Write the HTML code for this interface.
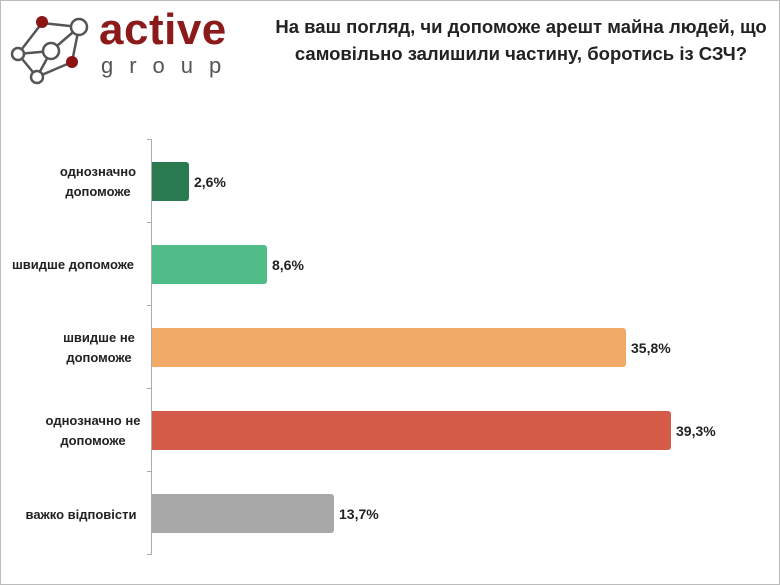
<!DOCTYPE html>
<html><head><meta charset="utf-8"><style>
body{margin:0;background:#fff;}
#c{position:relative;width:778px;height:583px;border:1px solid #bbb;overflow:hidden;font-family:"Liberation Sans",sans-serif;}
.t{position:absolute;left:240px;top:12px;width:560px;text-align:center;font-weight:bold;font-size:18.5px;line-height:27px;color:#222;}
.bar{position:absolute;left:151px;height:39px;border-radius:0 3px 3px 0;}
.v{position:absolute;font-weight:bold;font-size:14px;color:#222;}
.l{position:absolute;width:200px;text-align:center;font-weight:bold;font-size:13px;line-height:20px;color:#222;}
.ax{position:absolute;left:150px;top:138px;width:1px;height:416px;background:#aaa;}
.tk{position:absolute;left:146px;width:5px;height:1px;background:#aaa;}
</style></head><body><div id="c">
<svg style="position:absolute;left:0;top:0" width="100" height="90">
<g stroke="#555" stroke-width="2.5" fill="none">
<line x1="41" y1="22" x2="78" y2="26"/><line x1="41" y1="22" x2="17" y2="53"/><line x1="78" y1="26" x2="71" y2="61"/><line x1="78" y1="26" x2="50" y2="50"/><line x1="17" y1="53" x2="36" y2="76"/><line x1="50" y1="50" x2="36" y2="76"/><line x1="71" y1="61" x2="36" y2="76"/><line x1="17" y1="53" x2="50" y2="50"/>
</g>
<g stroke="#555" stroke-width="2.5" fill="#fff"><circle cx="78" cy="26" r="8"/><circle cx="50" cy="50" r="8"/><circle cx="17" cy="53" r="6"/><circle cx="36" cy="76" r="6"/></g>
<circle cx="41" cy="21" r="6" fill="#8b1414"/><circle cx="71" cy="61" r="6" fill="#8b1414"/>
</svg>
<div style="position:absolute;left:98px;top:4px;font-size:44px;font-weight:bold;color:#8b1a1a;letter-spacing:0.5px">active</div>
<div style="position:absolute;left:100px;top:52px;font-size:22px;color:#555;letter-spacing:16px">group</div>
<div class="t">На ваш погляд, чи допоможе арешт майна людей, що самовільно залишили частину, боротись із СЗЧ?</div>
<div class="ax"></div>
<div class="tk" style="top:138px"></div><div class="tk" style="top:221px"></div><div class="tk" style="top:304px"></div><div class="tk" style="top:387px"></div><div class="tk" style="top:470px"></div><div class="tk" style="top:553px"></div>
<div class="bar" style="top:161px;width:37px;background:#2a7a50"></div>
<div class="bar" style="top:244px;width:115px;background:#50bd88"></div>
<div class="bar" style="top:327px;width:474px;background:#f2aa68"></div>
<div class="bar" style="top:410px;width:519px;background:#d35b48"></div>
<div class="bar" style="top:493px;width:182px;background:#a8a8a8"></div>
<div class="v" style="left:193px;top:173px">2,6%</div>
<div class="v" style="left:271px;top:256px">8,6%</div>
<div class="v" style="left:630px;top:339px">35,8%</div>
<div class="v" style="left:675px;top:422px">39,3%</div>
<div class="v" style="left:338px;top:505px">13,7%</div>
<div class="l" style="left:-3px;top:161px">однозначно<br>допоможе</div>
<div class="l" style="left:-28px;top:254px">швидше допоможе</div>
<div class="l" style="left:-2px;top:327px">швидше не<br>допоможе</div>
<div class="l" style="left:-8px;top:410px">однозначно не<br>допоможе</div>
<div class="l" style="left:-20px;top:504px">важко відповісти</div>
</div></body></html>
